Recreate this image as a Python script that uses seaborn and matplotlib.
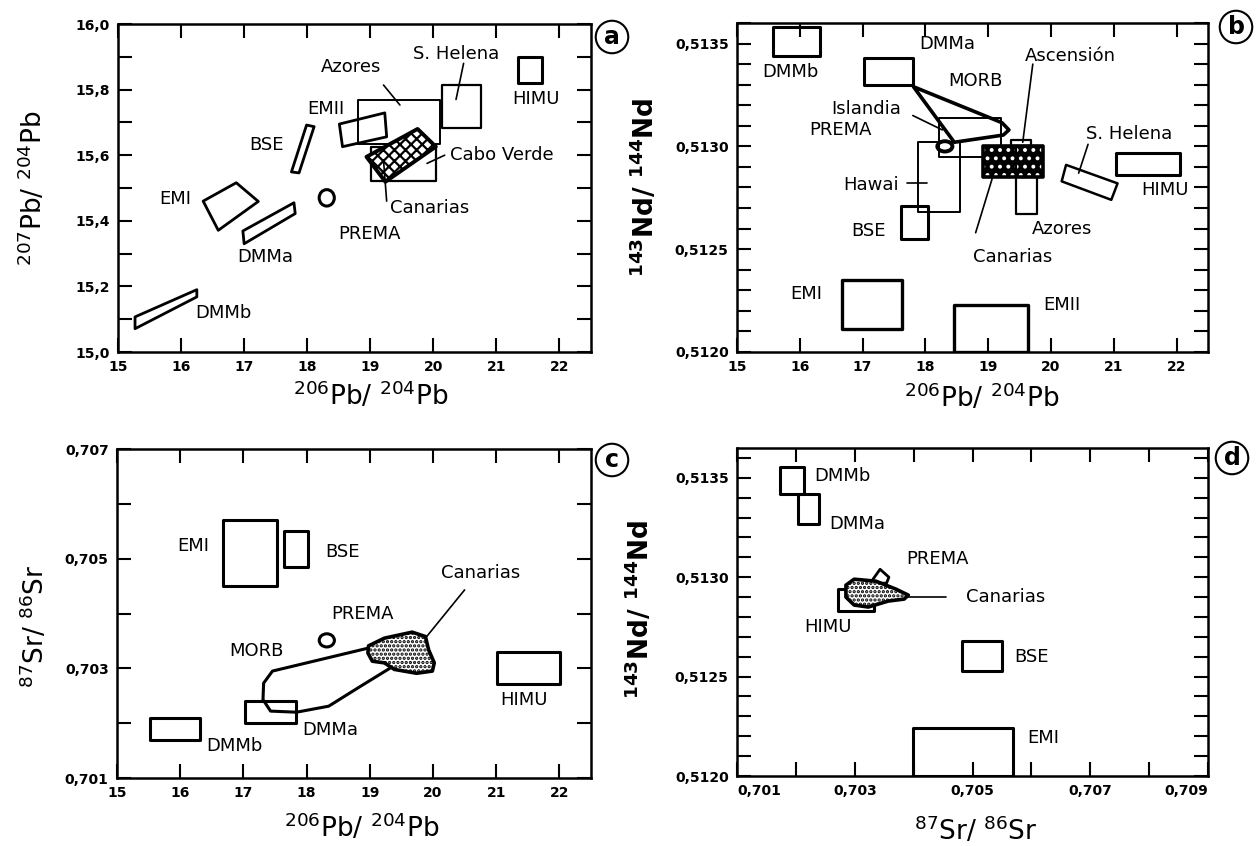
import numpy as np
import matplotlib
matplotlib.use("Agg")
import matplotlib.pyplot as plt
import seaborn as sns
from matplotlib.patches import Polygon, Rectangle, Ellipse
from matplotlib.ticker import FuncFormatter, FixedLocator

# ---------------- data: panel a (206Pb/204Pb vs 207Pb/204Pb) ----------------
a_dmmb = [(15.27, 15.107), (16.25, 15.19), (16.25, 15.168), (15.27, 15.071)]
a_dmma = [(16.98, 15.369), (17.79, 15.455), (17.81, 15.422), (17.0, 15.33)]
a_emi = [(16.35, 15.46), (16.875, 15.516), (17.225, 15.459), (16.59, 15.371)]
a_bse = [(17.75, 15.549), (17.87, 15.546), (18.11, 15.687), (17.99, 15.692)]
a_prema = [18.31, 15.47, 0.24, 0.05]  # centre x, centre y, width, height
a_emii = [(18.51, 15.695), (19.23, 15.729), (19.26, 15.656), (18.56, 15.626)]
a_azores = [18.8, 20.11, 15.635, 15.768]  # x0, x1, y0, y1
a_shelena = [20.13, 20.76, 15.684, 15.814]
a_himu = [21.34, 21.72, 15.82, 15.898]
a_caboverde = [19.01, 20.05, 15.52, 15.626]
a_canarias = [(18.94, 15.595), (19.75, 15.68), (20.04, 15.626), (19.24, 15.519)]
a_labels = ["Azores", "S. Helena", "HIMU", "EMII", "BSE", "Cabo Verde",
            "Canarias", "EMI", "PREMA", "DMMa", "DMMb"]
a_label_x = [18.69, 20.36, 21.62, 18.29, 17.35, 21.09, 19.94, 15.90, 18.99, 17.33, 16.67]
a_label_y = [15.87, 15.91, 15.77, 15.74, 15.63, 15.60, 15.44, 15.465, 15.36, 15.29, 15.12]
a_leaders = [[(19.21, 15.814), (19.47, 15.753)],
             [(20.48, 15.88), (20.36, 15.77)],
             [(20.18, 15.60), (19.90, 15.575)],
             [(19.26, 15.46), (19.21, 15.585)]]

# ---------------- data: panel b (206Pb/204Pb vs 143Nd/144Nd) ----------------
b_dmmb = [15.58, 16.32, 0.51344, 0.51358]
b_dmma = [17.02, 17.81, 0.51330, 0.51343]
b_morb = [(17.81, 0.51329), (19.22, 0.513115), (19.33, 0.51308), (19.24, 0.513055),
          (18.46, 0.51302), (17.81, 0.51329)]
b_islandia = [18.21, 19.20, 0.51295, 0.51314]
b_prema = [18.31, 0.51300, 0.24, 0.00005]
b_hawai = [17.89, 18.55, 0.51268, 0.51302]
b_bse = [17.61, 18.04, 0.51255, 0.51271]
b_canarias = [18.91, 19.87, 0.51285, 0.51300]
b_ascension = [19.36, 19.68, 0.51300, 0.51303]
b_azores = [19.44, 19.78, 0.51267, 0.51300]
b_shelena = [(20.24, 0.51291), (21.06, 0.51282), (20.96, 0.51274), (20.17, 0.51283)]
b_himu = [21.03, 22.05, 0.51286, 0.51297]
b_emi = [16.67, 17.62, 0.51211, 0.51235]
b_emii = [18.45, 19.63, 0.51200, 0.51223]
b_labels = ["DMMb", "DMMa", "MORB", "Islandia", "PREMA", "Hawai", "BSE",
            "Ascensión", "S. Helena", "HIMU", "Azores", "Canarias", "EMI", "EMII"]
b_label_x = [15.85, 18.34, 18.80, 17.06, 16.65, 17.14, 17.10, 20.31, 21.24, 21.81,
             20.18, 19.39, 16.11, 20.18]
b_label_y = [0.51336, 0.51350, 0.51332, 0.51318, 0.51308, 0.51281, 0.51259, 0.51344,
             0.51306, 0.51279, 0.51260, 0.51246, 0.51228, 0.51223]
b_leaders = [[(17.80, 0.51315), (18.27, 0.51308)],
             [(17.70, 0.51282), (18.02, 0.51282)],
             [(19.71, 0.51340), (19.55, 0.51302)],
             [(18.80, 0.51258), (19.10, 0.51288)],
             [(20.59, 0.51301), (20.44, 0.51287)]]

# ---------------- data: panel c (206Pb/204Pb vs 87Sr/86Sr) ----------------
c_emi = [16.67, 17.53, 0.7045, 0.7057]
c_bse = [17.64, 18.03, 0.70485, 0.7055]
c_prema = [18.32, 0.70351, 0.24, 0.00024]
c_himu = [21.02, 22.01, 0.70272, 0.70329]
c_dmmb = [15.52, 16.31, 0.70170, 0.70209]
c_dmma = [17.02, 17.84, 0.70200, 0.70240]
c_morb_x = [19.64, 18.98, 17.46, 17.32, 17.31, 17.43, 17.84, 18.35, 18.85, 19.33, 19.61, 19.64]
c_morb_y = [0.70354, 0.70337, 0.70295, 0.70273, 0.70243, 0.70222, 0.70220, 0.70231,
            0.70267, 0.70301, 0.70328, 0.70354]
c_canarias = [(18.98, 0.70341), (19.23, 0.70355), (19.67, 0.70366), (19.88, 0.70358),
              (19.93, 0.70334), (20.02, 0.70310), (19.99, 0.70295), (19.74, 0.70291),
              (19.39, 0.70298), (19.23, 0.70310), (19.04, 0.70313), (18.97, 0.70328)]
c_labels = ["EMI", "BSE", "Canarias", "PREMA", "MORB", "HIMU", "DMMa", "DMMb"]
c_label_x = [16.20, 18.57, 20.75, 18.88, 17.21, 21.44, 18.38, 16.86]
c_label_y = [0.70524, 0.70513, 0.70474, 0.70400, 0.70332, 0.70243, 0.70187, 0.70158]
c_leaders = [[(20.50, 0.70443), (19.90, 0.70358)]]
c_yticks = [0.701, 0.703, 0.705, 0.707]
c_yminor = [0.702, 0.704, 0.706]

# ---------------- data: panel d (87Sr/86Sr vs 143Nd/144Nd) ----------------
d_dmmb = [0.70173, 0.70213, 0.513421, 0.513556]
d_dmma = [0.70204, 0.70240, 0.51327, 0.51342]
d_prema = [(0.70331, 0.51299), (0.70343, 0.51304), (0.70358, 0.51300),
           (0.70354, 0.51297), (0.70333, 0.51297)]
d_himu = [0.70272, 0.70333, 0.51283, 0.51294]
d_canarias = [(0.70285, 0.51296), (0.70299, 0.51299), (0.70336, 0.51298), (0.70370, 0.51294),
              (0.70391, 0.51291), (0.70384, 0.51289), (0.70357, 0.51288), (0.70323, 0.51285),
              (0.70299, 0.51286), (0.70285, 0.51290)]
d_bse = [0.70482, 0.70550, 0.51253, 0.51268]
d_emi = [0.70399, 0.70569, 0.51200, 0.51224]
d_labels = ["DMMb", "DMMa", "PREMA", "Canarias", "HIMU", "BSE", "EMI"]
d_label_x = [0.70279, 0.70304, 0.70440, 0.70557, 0.70255, 0.70601, 0.70620]
d_label_y = [0.51351, 0.51327, 0.51309, 0.51290, 0.51275, 0.51260, 0.51219]
d_leaders = [[(0.70391, 0.51290), (0.70455, 0.51290)]]
d_xticks = [0.701, 0.703, 0.705, 0.707, 0.709]
d_xminor = [0.702, 0.704, 0.706, 0.708]

# ---------------- style ----------------
sns.set_theme(style="ticks")
plt.rcParams["font.family"] = ["DejaVu Sans"]
plt.rcParams["mathtext.default"] = "regular"
plt.rcParams["hatch.linewidth"] = 1.6
for k in ("text.color", "axes.labelcolor", "xtick.color", "ytick.color", "axes.edgecolor"):
    plt.rcParams[k] = "black"
LBL = 13

W, H = 1256, 846
fig = plt.figure(figsize=(W / 100, H / 100), dpi=100)
fig.patch.set_facecolor("white")


def add_axes(l, r, t, b):
    return fig.add_axes([l / W, 1 - b / H, (r - l) / W, (b - t) / H])


def box(ax, b, lw=1.6, z=3, **kw):
    x0, x1, y0, y1 = b
    ax.add_patch(Rectangle((x0, y0), x1 - x0, y1 - y0, fill=False, ec="black",
                           lw=lw, joinstyle="round", zorder=z, **kw))


def poly(ax, pts, lw=1.6, z=3):
    ax.add_patch(Polygon(pts, closed=True, fill=False, ec="black", lw=lw,
                         joinstyle="round", zorder=z))


def hatched(ax, pts, face, hcol, hatch, lw=2.6, z=4):
    ax.add_patch(Polygon(pts, closed=True, fc=face, ec=hcol, lw=0, hatch=hatch, zorder=z))
    ax.add_patch(Polygon(pts, closed=True, fill=False, ec="black", lw=lw,
                         joinstyle="round", zorder=z + 0.1))


def ellipse(ax, e, lw=2.0, z=3):
    ax.add_patch(Ellipse((e[0], e[1]), e[2], e[3], fill=False, ec="black", lw=lw, zorder=z))


def leaders(ax, segs):
    for seg in segs:
        xs = [p[0] for p in seg]
        ys = [p[1] for p in seg]
        sns.lineplot(x=xs, y=ys, sort=False, estimator=None, color="black",
                     lw=1.2, ax=ax, zorder=5)


def labels(ax, names, xs, ys):
    for n, x, y in zip(names, xs, ys):
        ax.text(x, y, n, fontsize=LBL, ha="center", va="center", zorder=6, color="black")


def fmt(nd):
    return FuncFormatter(lambda v, p: f"{v:.{nd}f}".replace(".", ","))


def style(ax, xlim, ylim, xmaj, xmin, ymaj, ymin, xnd, ynd):
    ax.set_xlim(*xlim)
    ax.set_ylim(*ylim)
    ax.xaxis.set_major_locator(FixedLocator(xmaj))
    ax.yaxis.set_major_locator(FixedLocator(ymaj))
    if xmin:
        ax.xaxis.set_minor_locator(FixedLocator(xmin))
    if ymin:
        ax.yaxis.set_minor_locator(FixedLocator(ymin))
    ax.xaxis.set_major_formatter(fmt(xnd))
    ax.yaxis.set_major_formatter(fmt(ynd))
    ax.tick_params(which="both", direction="in", top=True, right=True,
                   length=10, width=1.5, color="black")
    ax.tick_params(which="major", labelsize=10, pad=6, labelcolor="black")
    for lab in ax.get_xticklabels() + ax.get_yticklabels():
        lab.set_fontweight("bold")
    for s in ax.spines.values():
        s.set_linewidth(1.8)
        s.set_color("black")
    ax.set_facecolor("white")


def circled(x, y, letter):
    fig.text(x / W, 1 - y / H, letter, fontsize=17, fontweight="bold", ha="center",
             va="center", bbox=dict(boxstyle="circle,pad=0.18", fc="white", ec="black", lw=1.5))


pb_x = [15, 16, 17, 18, 19, 20, 21, 22]

# ---------------- panel a ----------------
axA = add_axes(118, 591, 24, 352)
for p in (a_dmmb, a_dmma, a_emi, a_bse, a_emii):
    poly(axA, p, lw=2.0)
ellipse(axA, a_prema, lw=2.2)
box(axA, a_azores, lw=1.4, z=2)
box(axA, a_shelena, lw=1.6)
box(axA, a_himu, lw=2.2)
box(axA, a_caboverde, lw=1.6)
hatched(axA, a_canarias, "white", "black", "xxx", lw=2.8)
leaders(axA, a_leaders)
labels(axA, a_labels, a_label_x, a_label_y)
style(axA, (15, 22.5), (15.0, 16.0), pb_x, None,
      [15.0, 15.2, 15.4, 15.6, 15.8, 16.0], [15.1, 15.3, 15.5, 15.7, 15.9], 0, 1)
axA.set_xlabel(r"$^{206}$Pb/ $^{204}$Pb", fontsize=19)
axA.set_ylabel(r"$^{207}$Pb/ $^{204}$Pb", fontsize=19)
axA.xaxis.set_label_coords(0.535, -0.088)
axA.yaxis.set_label_coords(-0.148, 0.5)

# ---------------- panel b ----------------
nd_major = [0.5120, 0.5125, 0.5130, 0.5135]
nd_minor = [0.5121, 0.5122, 0.5123, 0.5124, 0.5126, 0.5127, 0.5128, 0.5129,
            0.5131, 0.5132, 0.5133, 0.5134, 0.5136]
axB = add_axes(737, 1208, 23, 352)
box(axB, b_dmmb, lw=2.2)
box(axB, b_dmma, lw=2.2)
box(axB, b_islandia, lw=1.4, z=2)
box(axB, b_hawai, lw=1.4, z=2)
box(axB, b_bse, lw=2.2)
box(axB, b_azores, lw=1.6, z=2)
rect_can = [(b_canarias[0], b_canarias[2]), (b_canarias[1], b_canarias[2]),
            (b_canarias[1], b_canarias[3]), (b_canarias[0], b_canarias[3])]
hatched(axB, rect_can, "black", "white", "..", lw=2.6)
axB.plot([b_azores[0], b_azores[0]], [b_canarias[2], b_canarias[3]], color="black", lw=1.6, zorder=5)
box(axB, b_ascension, lw=1.6, z=3)
poly(axB, b_morb, lw=2.6, z=4)
ellipse(axB, b_prema, lw=2.8, z=4)
poly(axB, b_shelena, lw=1.8)
box(axB, b_himu, lw=2.2)
box(axB, b_emi, lw=2.4)
box(axB, b_emii, lw=2.4)
leaders(axB, b_leaders)
labels(axB, b_labels, b_label_x, b_label_y)
style(axB, (15, 22.5), (0.5120, 0.5136), pb_x, None, nd_major, nd_minor, 0, 4)
axB.set_xlabel(r"$^{206}$Pb/ $^{204}$Pb", fontsize=19)
axB.set_ylabel(r"$^{143}$Nd/ $^{144}$Nd", fontsize=19, fontweight="bold")
axB.xaxis.set_label_coords(0.52, -0.094)
axB.yaxis.set_label_coords(-0.163, 0.5)

# ---------------- panel c ----------------
axC = add_axes(117, 591, 449, 778)
box(axC, c_emi, lw=2.2)
box(axC, c_bse, lw=2.2)
ellipse(axC, c_prema, lw=2.2)
box(axC, c_himu, lw=2.2)
box(axC, c_dmmb, lw=2.2)
box(axC, c_dmma, lw=2.2)
sns.lineplot(x=c_morb_x, y=c_morb_y, sort=False, estimator=None, color="black",
             lw=2.2, ax=axC, zorder=3)
hatched(axC, c_canarias, "white", "black", "....", lw=2.6)
leaders(axC, c_leaders)
labels(axC, c_labels, c_label_x, c_label_y)
style(axC, (15, 22.5), (0.701, 0.707), pb_x, None, c_yticks, c_yminor, 0, 3)
axC.set_xlabel(r"$^{206}$Pb/ $^{204}$Pb", fontsize=19)
axC.set_ylabel(r"$^{87}$Sr/ $^{86}$Sr", fontsize=19)
axC.xaxis.set_label_coords(0.517, -0.106)
axC.yaxis.set_label_coords(-0.141, 0.46)

# ---------------- panel d ----------------
axD = add_axes(737, 1208, 448, 776)
box(axD, d_dmmb, lw=2.2)
box(axD, d_dmma, lw=2.2)
poly(axD, d_prema, lw=2.0, z=3)
box(axD, d_himu, lw=2.2)
hatched(axD, d_canarias, "white", "black", "....", lw=2.6)
box(axD, d_bse, lw=2.2)
box(axD, d_emi, lw=2.2)
leaders(axD, d_leaders)
labels(axD, d_labels, d_label_x, d_label_y)
style(axD, (0.701, 0.709), (0.5120, 0.51365), d_xticks, d_xminor, nd_major, nd_minor, 3, 4)
xt = axD.get_xticklabels()
xt[0].set_horizontalalignment("left")
xt[-1].set_horizontalalignment("right")
axD.set_xlabel(r"$^{87}$Sr/ $^{86}$Sr", fontsize=19)
axD.set_ylabel(r"$^{143}$Nd/ $^{144}$Nd", fontsize=19, fontweight="bold")
axD.xaxis.set_label_coords(0.507, -0.119)
axD.yaxis.set_label_coords(-0.174, 0.51)

circled(612, 37, "a")
circled(1236, 27, "b")
circled(612, 460, "c")
circled(1232, 458, "d")

fig.savefig("out.png", dpi=100, facecolor="white")
